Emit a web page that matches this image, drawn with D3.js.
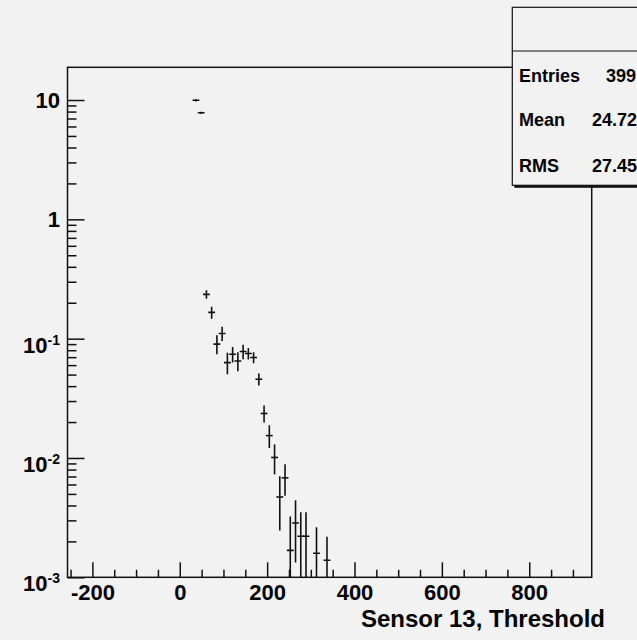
<!DOCTYPE html>
<html>
<head>
<meta charset="utf-8">
<script src="https://cdn.jsdelivr.net/npm/d3@7"></script>
<style>
  body { margin: 0; background: #f2f2f2; }
  svg { display: block; }
  text { font-family: "Liberation Sans", Arial, sans-serif; font-weight: bold; fill: #000; }
</style>
</head>
<body>
<div id="chart"></div>
<script>
// histogram bins (centre of each bin, bin width 12)
var binWidth = 12;
var binCenters = [37, 49, 61, 73, 85, 97, 109, 121, 133, 145, 157, 169, 181,
  193, 205, 217, 229, 241, 253, 265, 277, 289, 313, 337];
var binValues = [9.94, 7.82, 0.235, 0.166, 0.090, 0.1106, 0.063, 0.074, 0.065, 0.078, 0.075, 0.0695, 0.0457,
  0.0236, 0.0154, 0.0101, 0.00471, 0.00681, 0.00168, 0.00285, 0.00221, 0.00221, 0.00159, 0.00139];
var binErrors = [0.05, 0.05, 0.0155, 0.0166, 0.015, 0.0136, 0.012, 0.0099, 0.0109, 0.0096, 0.0071, 0.0063, 0.0046,
  0.0035, 0.0031, 0.0027, 0.0022, 0.0019, 0.0015, 0.0015, 0.00125, 0.00125, 0.0010, 0.00076];

var xMajorTicks = [-200, 0, 200, 400, 600, 800];
var xMinorTicks = [-250, -150, -100, -50, 50, 100, 150, 250, 300, 350, 450, 500, 550, 650, 700, 750, 850, 900];
var yDecades = [1e-3, 1e-2, 1e-1, 1, 10];
var yDecadeLabels = [["10", "-3"], ["10", "-2"], ["10", "-1"], ["1", ""], ["10", ""]];

// stats box, only the part that is visible in the picture
var statsNames = ["Entries", "Mean", "RMS"];
var statsValues = ["399", "24.72", "27.45"];
var xTitle = "Sensor 13, Threshold";

var W = 637, H = 640;
var frameL = 67.5, frameR = 591.7, frameT = 67.3, frameB = 577.3;

var svg = d3.select("#chart").append("svg")
  .attr("width", W).attr("height", H);

var x = d3.scaleLinear().domain([-257, 943]).range([frameL, frameR]);
var y = d3.scaleLog().domain([1e-3, 18.8]).range([frameB, frameT]).clamp(true);

// minor y ticks 2..9 per decade
var yMinor = [];
yDecades.forEach(function (d) {
  for (var k = 2; k <= 9; k++) {
    if (d * k <= 18.8) yMinor.push(d * k);
  }
});

// frame
svg.append("rect")
  .attr("x", frameL).attr("y", frameT)
  .attr("width", frameR - frameL).attr("height", frameB - frameT)
  .attr("fill", "none").attr("stroke", "#111").attr("stroke-width", 1.5);

// x axis, ticks pointing inward
var gx = svg.append("g").attr("transform", "translate(0," + frameB + ")");
gx.call(d3.axisBottom(x).tickValues(xMajorTicks).tickSizeInner(-15).tickSizeOuter(0).tickPadding(7)
  .tickFormat(function (d) { return String(d); }));
gx.append("g").call(d3.axisBottom(x).tickValues(xMinorTicks).tickSizeInner(-7.5).tickSizeOuter(0).tickFormat(""));
gx.selectAll(".domain").remove();
gx.selectAll("line").attr("stroke", "#111").attr("stroke-width", 1.5);
gx.selectAll("text").attr("fill", "#000").style("font-size", "22px");
gx.attr("font-family", null).attr("font-size", null);
gx.selectAll("g").attr("font-family", null).attr("font-size", null);

// y axis
var gy = svg.append("g").attr("transform", "translate(" + frameL + ",0)");
gy.call(d3.axisLeft(y).tickValues(yDecades).tickSizeInner(-17).tickSizeOuter(0).tickFormat(""));
gy.append("g").call(d3.axisLeft(y).tickValues(yMinor).tickSizeInner(-9).tickSizeOuter(0).tickFormat(""));
gy.selectAll(".domain").remove();
gy.selectAll("line").attr("stroke", "#111").attr("stroke-width", 1.5);

yDecades.forEach(function (d, i) {
  var lab = yDecadeLabels[i];
  var t = svg.append("text")
    .attr("x", 60)
    .attr("text-anchor", "end")
    .style("font-size", "22px");
  if (lab[1] === "") {
    t.attr("y", y(d) + 8).text(lab[0]);
  } else {
    t.attr("y", y(d) + 14);
    t.append("tspan").text(lab[0]);
    t.append("tspan").attr("dy", -8).style("font-size", "14px").text(lab[1]);
  }
});

// x axis title
svg.append("text")
  .attr("x", 605).attr("y", 626.7)
  .attr("text-anchor", "end")
  .style("font-size", "24px")
  .text(xTitle);

// data points with error bars
svg.append("clipPath").attr("id", "frameClip")
  .append("rect").attr("x", frameL).attr("y", frameT)
  .attr("width", frameR - frameL).attr("height", frameB - frameT);

var pts = svg.append("g").attr("clip-path", "url(#frameClip)")
  .attr("stroke", "#111").attr("stroke-width", 1.6).attr("stroke-linecap", "square");

binCenters.forEach(function (c, i) {
  var v = binValues[i], e = binErrors[i];
  pts.append("line")
    .attr("x1", x(c - binWidth / 2)).attr("x2", x(c + binWidth / 2))
    .attr("y1", y(v)).attr("y2", y(v));
  pts.append("line")
    .attr("x1", x(c)).attr("x2", x(c))
    .attr("y1", y(v + e))
    .attr("y2", v - e > 0 ? y(v - e) : frameB);
});

// stats box (cut off by the right edge)
var bx = 512.3, by = 7.3, bh = 178;
svg.append("rect")
  .attr("x", bx + 2).attr("y", by + 2.5)
  .attr("width", 200).attr("height", bh)
  .attr("fill", "#111");
svg.append("rect")
  .attr("x", bx).attr("y", by)
  .attr("width", 200).attr("height", bh)
  .attr("fill", "#f2f2f2").attr("stroke", "#111").attr("stroke-width", 1.2);
svg.append("line")
  .attr("x1", bx).attr("x2", bx + 200)
  .attr("y1", 51).attr("y2", 51)
  .attr("stroke", "#111").attr("stroke-width", 1.2);

var statsY = [81.5, 125.5, 172];
var statsValX = [606, 592, 592];
statsNames.forEach(function (n, i) {
  svg.append("text").attr("x", 519).attr("y", statsY[i])
    .style("font-size", "18px").text(n);
  svg.append("text").attr("x", statsValX[i]).attr("y", statsY[i])
    .style("font-size", "18px").text(statsValues[i]);
});
</script>
</body>
</html>
